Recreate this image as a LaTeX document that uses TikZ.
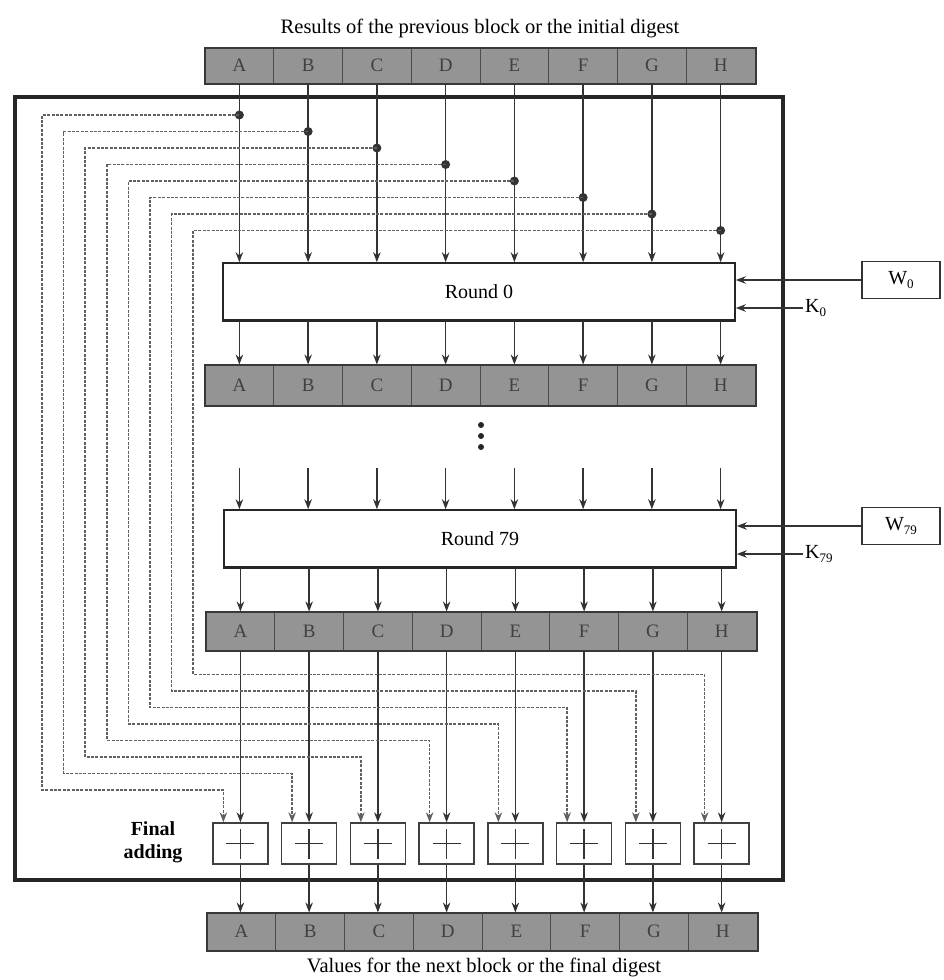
\documentclass[tikz,border=0pt]{standalone}
\usepackage{fontspec}
\setmainfont{Liberation Serif}
\usetikzlibrary{arrows.meta}
\newcommand\lowsub[1]{\raisebox{-0.4ex}{\fontsize{13}{13}\selectfont #1}}
\begin{document}
\begin{tikzpicture}[x=1pt,y=-1pt,
  line/.style={draw=black!80, line width=1.5pt},
  arr/.style={line, -{Stealth[length=10pt,width=7.5pt]}},
  dsh/.style={draw=black!62, line width=1.6pt, dash pattern=on 3pt off 1.4pt},
  dsharr/.style={dsh, -{Stealth[length=10pt,width=7.5pt]}},
  cell/.style={draw=black!70, line width=1pt, fill=black!42, minimum width=68.75pt,
    minimum height=36pt, inner sep=0pt, text=black!75, font=\fontsize{19}{19}\selectfont},
  roundbox/.style={draw=black!85, line width=1.6pt, fill=white, minimum width=512pt,
    minimum height=57pt, font=\fontsize{20}{20}\selectfont},
  wbox/.style={draw=black!80, line width=1.4pt, minimum width=78pt, minimum height=37pt,
    font=\fontsize{20}{20}\selectfont},
  plusbox/.style={draw=black!75, line width=1.4pt, minimum width=55pt, minimum height=41pt, inner sep=0pt},
  dotnode/.style={circle, fill=black!80, inner sep=0pt, minimum size=9pt},
  vdot/.style={circle, fill=black!85, inner sep=0pt, minimum size=6pt},
  lbl/.style={font=\fontsize{20}{20}\selectfont, inner sep=2pt},
  captext/.style={font=\fontsize{20.5}{24}\selectfont}
]
\useasboundingbox (0,0) rectangle (943,980);

% captions
\node[captext] (captop) at (480,28) {Results of the previous block or the initial digest};
\node[captext] (capbot) at (484,967) {Values for the next block or the final digest};

% frame
\draw[line width=3.2pt, black!85] (15,97) rectangle (783,880);

% rounds
\node[roundbox] (round0) at (479,291.5) {Round 0};
\draw[line width=3pt, black!85] (round0.south west) -- (round0.south east);
\node[roundbox] (round79) at (480,538.5) {Round 79};
\draw[line width=3pt, black!85] (round79.south west) -- (round79.south east);

% registers and plus boxes
\foreach \l [count=\i] in {A,B,C,D,E,F,G,H} {
  \pgfmathsetmacro\cx{205+68.75*(\i-0.5)}
  \node[cell, minimum height=35pt] (t\i) at (\cx,65.5) {\l};
  \node[cell, minimum height=40pt] (m\i) at (\cx,385) {\l};
  \node[cell, minimum height=38pt] (r\i) at (\cx+1,631) {\l};
  \node[cell, minimum height=37pt] (b\i) at (\cx+2,931.5) {\l};
  \node[plusbox] (p\i) at (\cx+1,843.5) {};
  \coordinate (s\i) at (\cx,468);
}
\foreach \n in {t,m,r,b}{
  \draw[black!78, line width=2pt] (\n1.south west) rectangle (\n8.north east);
}

% W and K inputs
\node[wbox] (w0) at (901,280) {W\lowsub{0}};
\draw[arr] (w0.west) -- (w0.west -| round0.east);
\node[lbl, anchor=west] (k0) at (803,308) {K\lowsub{0}};
\draw[arr] (k0.west) -- (k0.west -| round0.east);
\node[wbox] (w79) at (901,526) {W\lowsub{79}};
\draw[arr] (w79.west) -- (w79.west -| round79.east);
\node[lbl, anchor=west] (k79) at (803,554) {K\lowsub{79}};
\draw[arr] (k79.west) -- (k79.west -| round79.east);

% vertical dots
\node[vdot] (vd1) at (481,425) {};
\node[vdot] (vd2) at (481,436) {};
\node[vdot] (vd3) at (481,447) {};

% final adding label
\node[font=\bfseries\fontsize{20}{23}\selectfont, align=center] (fin) at (153,842) {Final\\adding};

% connectors
\foreach \i in {1,...,8} {
  \pgfmathsetmacro\yd{115+16.5*(\i-1)}
  \pgfmathsetmacro\xl{42+21.6*(\i-1)}
  \pgfmathsetmacro\yb{790-16.5*(\i-1)}
  \draw[arr] (t\i.south) -- (t\i.south |- round0.north);
  \node[dotnode] (d\i) at (t\i.south |- 0,\yd) {};
  \coordinate (fa\i) at (\xl,\yd);
  \coordinate (fb\i) at (\xl,\yb);
  \coordinate (fc\i) at ([xshift=-17pt]p\i.center |- 0,\yb);
  \draw[dsharr] (d\i.center) -- (fa\i) -- (fb\i) -- (fc\i) -- (fc\i |- p\i.north);
  \draw[arr] (round0.south -| m\i) -- (m\i.north);
  \draw[arr] (s\i) -- (s\i |- round79.north);
  \draw[arr] (round79.south -| r\i) -- (r\i.north);
  \draw[arr] (r\i.south) -- (r\i.south |- p\i.north);
  \draw[arr] (p\i.south) -- (p\i.south |- b\i.north);
  \draw[line] ([xshift=-14pt]p\i.center) -- ([xshift=14pt]p\i.center);
  \draw[line] ([yshift=-15pt]p\i.center) -- ([yshift=15pt]p\i.center);
}
\end{tikzpicture}
\end{document}
